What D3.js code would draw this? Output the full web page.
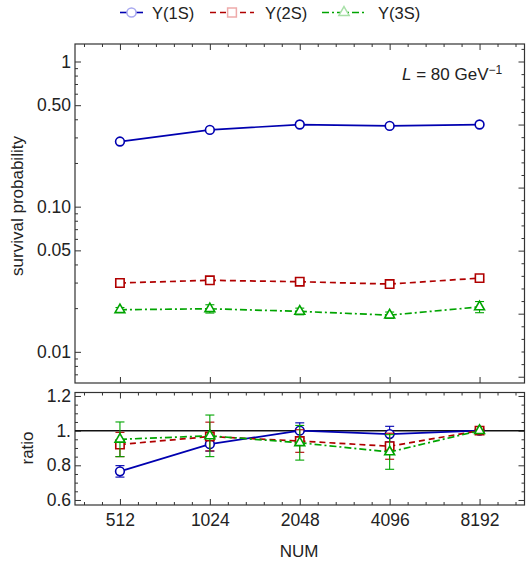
<!DOCTYPE html>
<html>
<head>
<meta charset="utf-8">
<script src="https://cdn.jsdelivr.net/npm/d3@7"></script>
<style>
  body { margin: 0; background: #fff; }
  svg { display: block; font-family: "Liberation Sans", Arial, sans-serif; }
</style>
</head>
<body>
<svg width="526" height="567"></svg>
<script>
// lattice sizes on the x axis
const nums = [512, 1024, 2048, 4096, 8192]
const numLabels = ['512', '1024', '2048', '4096', '8192']

// survival probability (top panel)
const survival1S = [0.281, 0.338, 0.368, 0.360, 0.368]
const survival1SErr = [0.004, 0.004, 0.004, 0.004, 0.004]
const survival2S = [0.0298, 0.0311, 0.0304, 0.0293, 0.0322]
const survival2SErr = [0.0006, 0.0007, 0.0006, 0.0007, 0.0007]
const survival3S = [0.0195, 0.0198, 0.0190, 0.0179, 0.0204]
const survival3SErr = [0.0007, 0.0013, 0.0010, 0.0009, 0.0018]

// ratio to NUM = 8192 (bottom panel)
const ratio1S = [0.765, 0.922, 1.0, 0.98, 1.0]
const ratio1SErr = [0.033, 0.04, 0.045, 0.045, 0]
const ratio2S = [0.92, 0.966, 0.94, 0.91, 1.0]
const ratio2SErr = [0.07, 0.083, 0.065, 0.075, 0]
const ratio3S = [0.95, 0.97, 0.93, 0.877, 1.0]
const ratio3SErr = [0.10, 0.12, 0.10, 0.10, 0]

// tick labels
const survivalTicks = [0.01, 0.05, 0.1, 0.5, 1]
const survivalTickLabels = ['0.01', '0.05', '0.10', '0.50', '1']
const ratioTicks = [0.6, 0.8, 1.0, 1.2]
const ratioTickLabels = ['0.6', '0.8', '1.', '1.2']

const seriesNames = ['Y(1S)', 'Y(2S)', 'Y(3S)']

;(function(d3){
    const svg = d3.select('svg')

    const left = 75, right = 524.5
    const topY0 = 44, topY1 = 383
    const botY0 = 392.5, botY1 = 505
    const textColor = '#222'
    const frameColor = '#333'
    const tickFont = 17.5

    const series = [
        { name: seriesNames[0], color: '#0000b0', light: '#a8a8f0', type: d3.symbolCircle, size: 60, dash: null,
          top: survival1S, topErr: survival1SErr, ratio: ratio1S, ratioErr: ratio1SErr },
        { name: seriesNames[1], color: '#b00000', light: '#eeaaaa', type: d3.symbolSquare, size: 70, dash: '6,4',
          top: survival2S, topErr: survival2SErr, ratio: ratio2S, ratioErr: ratio2SErr },
        { name: seriesNames[2], color: '#00a400', light: '#a8e0a8', type: d3.symbolTriangle, size: 42, dash: '7,3,2,3',
          top: survival3S, topErr: survival3SErr, ratio: ratio3S, ratioErr: ratio3SErr }
    ]

    const xScale = d3.scaleLog().base(2)
        .domain([512 / Math.SQRT2, 8192 * Math.SQRT2])
        .range([left, right])

    const yTop = d3.scaleLog()
        .domain([0.0061, 1.32])
        .range([topY1, topY0])

    const yBot = d3.scaleLinear()
        .domain([0.571, 1.22])
        .range([botY1, botY0])

    // minor tick values
    const xMinor = d3.range(-2, 23).filter(k => k % 5 !== 0).map(k => 512 * Math.pow(2, k * 0.2))
    const yTopMinor = []
    ;[0.001, 0.01, 0.1].forEach(dec => d3.range(2, 10).forEach(m => {
        const v = m * dec
        if (v >= 0.0061 && v <= 1.32 && Math.abs(v - 0.05) > 1e-9 && Math.abs(v - 0.5) > 1e-9) yTopMinor.push(v)
    }))
    const lnTicks = d3.range(-25, 2).map(k => ({ v: Math.exp(k * 0.2), major: k % 5 === 0 }))
    const yBotMinor = d3.range(12, 25).map(k => k * 0.05).filter(v => Math.abs(v * 5 - Math.round(v * 5)) > 1e-6)

    const styleAxis = (g) => {
        g.select('.domain').remove()
        g.selectAll('.tick line').attr('stroke', frameColor).attr('stroke-width', 1)
        g.selectAll('.tick text').attr('fill', textColor).attr('font-size', tickFont)
            .attr('font-family', '"Liberation Sans", Arial, sans-serif')
    }

    const addAxis = (axis, tx, ty) => svg.append('g')
        .attr('transform', `translate(${tx},${ty})`)
        .call(axis)
        .call(styleAxis)

    const noLabel = () => ''

    // ---- top panel axes
    addAxis(d3.axisLeft(yTop).tickValues(survivalTicks).tickFormat((d, i) => survivalTickLabels[i]).tickSize(-6).tickPadding(4), left, 0)
    addAxis(d3.axisLeft(yTop).tickValues(yTopMinor).tickFormat(noLabel).tickSize(-3), left, 0)
    addAxis(d3.axisRight(yTop).tickValues(lnTicks.filter(t => t.major && t.v >= 0.0061 && t.v <= 1.32).map(t => t.v)).tickFormat(noLabel).tickSize(-6), right, 0)
    addAxis(d3.axisRight(yTop).tickValues(lnTicks.filter(t => !t.major && t.v >= 0.0061 && t.v <= 1.32).map(t => t.v)).tickFormat(noLabel).tickSize(-3), right, 0)
    addAxis(d3.axisTop(xScale).tickValues(nums).tickFormat(noLabel).tickSize(-6), 0, topY0)
    addAxis(d3.axisTop(xScale).tickValues(xMinor).tickFormat(noLabel).tickSize(-3), 0, topY0)
    addAxis(d3.axisBottom(xScale).tickValues(nums).tickFormat(noLabel).tickSize(-6), 0, topY1)

    // ---- bottom panel axes
    addAxis(d3.axisLeft(yBot).tickValues(ratioTicks).tickFormat((d, i) => ratioTickLabels[i]).tickSize(-6).tickPadding(4), left, 0)
    addAxis(d3.axisLeft(yBot).tickValues(yBotMinor).tickFormat(noLabel).tickSize(-3), left, 0)
    addAxis(d3.axisRight(yBot).tickValues(ratioTicks).tickFormat(noLabel).tickSize(-6), right, 0)
    addAxis(d3.axisRight(yBot).tickValues(yBotMinor).tickFormat(noLabel).tickSize(-3), right, 0)
    addAxis(d3.axisTop(xScale).tickValues(nums).tickFormat(noLabel).tickSize(-6), 0, botY0)
    addAxis(d3.axisTop(xScale).tickValues(xMinor).tickFormat(noLabel).tickSize(-3), 0, botY0)
    addAxis(d3.axisBottom(xScale).tickValues(nums).tickFormat((d, i) => numLabels[i]).tickSize(-6).tickPadding(9), 0, botY1)
    addAxis(d3.axisBottom(xScale).tickValues(xMinor).tickFormat(noLabel).tickSize(-3), 0, botY1)

    // frames
    ;[[topY0, topY1], [botY0, botY1]].forEach(([y0, y1]) => {
        svg.append('rect')
            .attr('x', left).attr('y', y0)
            .attr('width', right - left).attr('height', y1 - y0)
            .attr('fill', 'none').attr('stroke', frameColor).attr('stroke-width', 1.2)
    })

    // reference line at ratio 1
    svg.append('line')
        .attr('x1', left).attr('x2', right)
        .attr('y1', yBot(1)).attr('y2', yBot(1))
        .attr('stroke', '#111').attr('stroke-width', 1.5)

    // ---- series
    const drawSeries = (s, values, errs, yScale) => {
        const g = svg.append('g').attr('class', 'series')
        const pts = values.map((v, i) => ({ x: xScale(nums[i]), y: yScale(v), lo: yScale(v - errs[i]), hi: yScale(v + errs[i]), e: errs[i] }))

        const line = d3.line().x(d => d.x).y(d => d.y)
        g.append('path')
            .attr('d', line(pts))
            .attr('fill', 'none')
            .attr('stroke', s.color)
            .attr('stroke-width', 1.7)
            .attr('stroke-dasharray', s.dash)

        const eb = g.selectAll('.err').data(pts.filter(d => d.e > 0)).enter().append('g')
            .attr('stroke', s.color).attr('stroke-width', 1.1)
        eb.append('line').attr('x1', d => d.x).attr('x2', d => d.x).attr('y1', d => d.lo).attr('y2', d => d.hi)
        eb.append('line').attr('x1', d => d.x - 4.5).attr('x2', d => d.x + 4.5).attr('y1', d => d.lo).attr('y2', d => d.lo)
        eb.append('line').attr('x1', d => d.x - 4.5).attr('x2', d => d.x + 4.5).attr('y1', d => d.hi).attr('y2', d => d.hi)

        g.selectAll('.mark').data(pts).enter().append('path')
            .attr('d', d3.symbol(s.type, s.size))
            .attr('transform', d => `translate(${d.x},${d.y})`)
            .attr('fill', 'white')
            .attr('stroke', s.color)
            .attr('stroke-width', 1.6)
    }

    ;[series[1], series[2], series[0]].forEach(s => drawSeries(s, s.top, s.topErr, yTop))
    series.forEach(s => drawSeries(s, s.ratio, s.ratioErr, yBot))

    // ---- legend
    const legendX = [120, 210, 322]
    const legendW = [23, 44, 44]
    const legendTextX = [152, 265, 378]
    const legendY = 12.5
    series.forEach((s, i) => {
        const lg = svg.append('g').attr('class', 'legend-item')
        lg.append('line')
            .attr('x1', legendX[i]).attr('x2', legendX[i] + legendW[i])
            .attr('y1', legendY).attr('y2', legendY)
            .attr('stroke', s.color).attr('stroke-width', 1.6)
            .attr('stroke-dasharray', s.dash)
        lg.append('path')
            .attr('d', d3.symbol(s.type, s.size * 1.1))
            .attr('transform', `translate(${legendX[i] + legendW[i] / 2},${legendY})`)
            .attr('fill', 'white')
            .attr('stroke', s.light)
            .attr('stroke-width', 1.5)
        lg.append('text')
            .attr('x', legendTextX[i]).attr('y', legendY + 6)
            .attr('font-size', 16.5)
            .attr('fill', textColor)
            .text(s.name)
    })

    // ---- annotations and titles
    const lbl = svg.append('text')
        .attr('x', 402).attr('y', 80)
        .attr('font-size', 17)
        .attr('fill', textColor)
    lbl.append('tspan').attr('font-style', 'italic').text('L')
    lbl.append('tspan').text(' = 80 GeV')
    lbl.append('tspan').attr('font-size', 12).attr('dy', -6.5).text('\u22121')

    svg.append('text')
        .attr('transform', `translate(23,206) rotate(-90)`)
        .attr('text-anchor', 'middle')
        .attr('font-size', 17)
        .attr('fill', textColor)
        .text('survival probability')

    svg.append('text')
        .attr('transform', `translate(33,448) rotate(-90)`)
        .attr('text-anchor', 'middle')
        .attr('font-size', 17)
        .attr('fill', textColor)
        .text('ratio')

    svg.append('text')
        .attr('x', 299).attr('y', 557)
        .attr('text-anchor', 'middle')
        .attr('font-size', 17)
        .attr('fill', textColor)
        .text('NUM')
}(d3))
</script>
</body>
</html>
